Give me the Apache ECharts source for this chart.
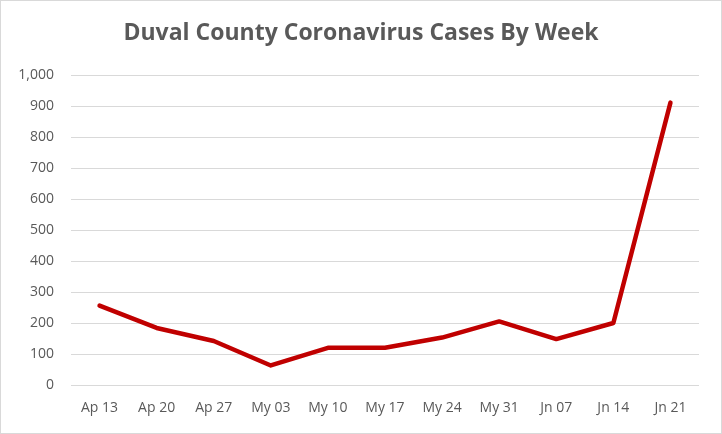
<!DOCTYPE html>
<html>
<head>
<meta charset="utf-8">
<style>
html,body{margin:0;padding:0;background:#fff;}
#c{width:722px;height:434px;box-sizing:border-box;border:1px solid #d9d9d9;}
</style>
<script src="https://cdn.jsdelivr.net/npm/echarts@6/dist/echarts.min.js"></script>
</head>
<body>
<div id="c"></div>
<script>
const categories = ['Ap 13','Ap 20','Ap 27','My 03','My 10','My 17','My 24','My 31','Jn 07','Jn 14','Jn 21'];
const cases = [256, 184, 142, 63, 120, 120, 153, 205, 148, 200, 911];

const chart = echarts.init(document.getElementById('c'), null, {renderer:'canvas'});
chart.setOption({
  animation:false,
  backgroundColor:'#fff',
  title:{
    text:'Duval County Coronavirus Cases By Week',
    left:'center', top:16,
    textStyle:{fontFamily:'Open Sans', fontWeight:'bold', fontSize:23, color:'#595959'}
  },
  grid:{left:70, right:22, top:74, bottom:48, containLabel:false},
  xAxis:{
    type:'category', data:categories, boundaryGap:true,
    axisLine:{show:false}, axisTick:{show:false},
    axisLabel:{color:'#595959', fontFamily:'Open Sans', fontSize:14, margin:16}
  },
  yAxis:{
    type:'value', min:0, max:1000, interval:100,
    axisLine:{show:false}, axisTick:{show:false},
    splitLine:{lineStyle:{color:'#d9d9d9', width:1}},
    axisLabel:{color:'#595959', fontFamily:'Open Sans', fontSize:14, margin:17,
      formatter: v => v.toLocaleString('en-US')}
  },
  series:[{
    type:'line', data:cases, showSymbol:false, symbol:'none',
    lineStyle:{color:'#c00000', width:4.5, cap:'round', join:'round'}
  }]
});
</script>
</body>
</html>
